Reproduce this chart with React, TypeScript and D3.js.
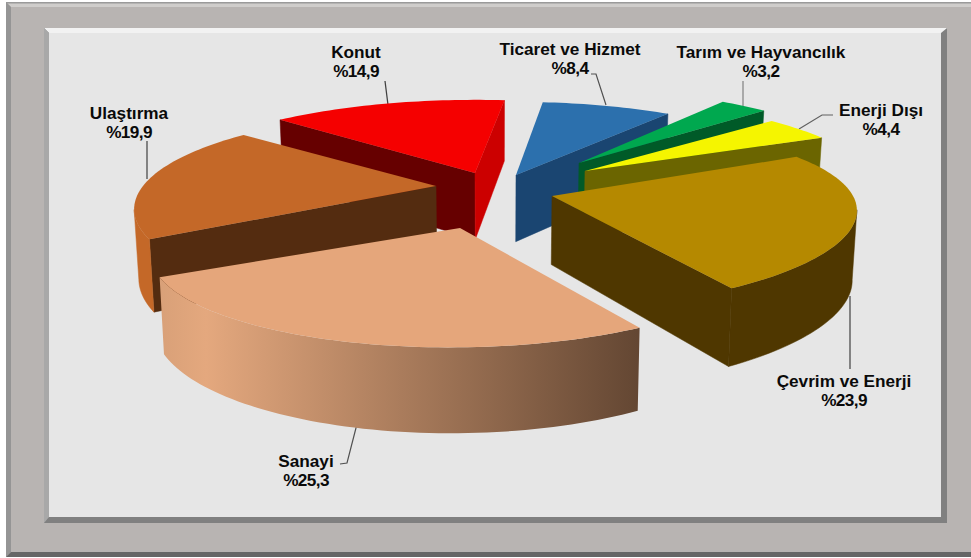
import * as d3 from "d3";

// Energy consumption shares by sector, in drawing order around the pie
const sectors = ["Konut", "Ticaret ve Hizmet", "Tarım ve Hayvancılık", "Enerji Dışı", "Çevrim ve Enerji", "Sanayi", "Ulaştırma"];
const shares = [14.9, 8.4, 3.2, 4.4, 23.9, 25.3, 19.9];
const shareLabels = ["%14,9", "%8,4", "%3,2", "%4,4", "%23,9", "%25,3", "%19,9"];

const topColors = ["#f50000", "#2c70ad", "#00a84f", "#f5f500", "#b58900", "#e5a67b", "#c46828"];
const startWallColors = ["#660000", "#1a4571", "#005a28", "#6b6500", "#4f3700", "#644733", "#542c10"];
const endWallColors = ["#cc0000", "#1a4571", "#005a28", "#6b6500", "#4f3700", "#644733", "#542c10"];
const outerWallColors = ["#cc0000", "#1a4571", "#005a28", "#6b6500", "#4f3700", "url(#sanayiWall)", "#c46828"];

// Each slice is pulled out of the pie by this many pixels
const explodeX = [-19, 22, 85, 91, 58, -34, -58];
const explodeY = [-17, -15, -27, -19, 6, 38, -4];
// Small per-slice corrections for the camera's perspective (rotation in degrees, stretch, shear)
const sliceTurn = [0.5, 0, 0, 0, 1.5, 2, -2];
const stretchX = [1.05, 1.03, 0.975, 0.985, 1, 1.015, 0.99];
const stretchY = [1, 1, 1, 1, 0.96, 1, 1];
const sliceShear = [0, 0, 0, 0.012, -0.025, -0.01, 0];
const paintOrder = [0, 1, 2, 3, 6, 4, 5];

// Label anchors and the leader lines that tie them to their slices
const labelX = [356, 570, 761, 881, 844, 306, 129];
const labelY = [58, 55, 58, 116, 387, 467, 119];
const leaders: [number, number][][] = [
  [[385, 81], [388, 105]],
  [[591, 74], [596, 74], [606, 105]],
  [[743, 81], [743, 108]],
  [[833, 115], [822, 115], [799, 129]],
  [[850, 296], [850, 369]],
  [[357, 424], [347, 463], [340, 464]],
  [[147, 141], [147, 179]],
];
const leaderColors = ["#404040", "#505050", "#808080", "#606060", "#404040", "#505050", "#404040"];

const centerX = 494;
const centerY = 190;
const radiusX = 296;
const radiusY = 90.7;
const tilt = 0.24;
const firstAngle = (312.6 * Math.PI) / 180;

type Pt = [number, number];

const pieAngles = d3
  .pie<number>()
  .sort(null)
  .startAngle(firstAngle)
  .endAngle(firstAngle + 2 * Math.PI)(shares);

const onRim = (angle: number, i: number, ox: number, oy: number): Pt => {
  const x = Math.sin(angle);
  const y = Math.cos(angle);
  const w = 1 + tilt * y;
  const px = (stretchX[i] * radiusX * x) / w;
  const py = (-stretchY[i] * radiusY * y) / w;
  return [ox + px, oy + py + sliceShear[i] * px];
};

// Wall height shrinks with distance from the viewer; verticals converge slightly
const below = (p: Pt): Pt => {
  const yGlobal = -(p[1] - centerY) / radiusY;
  const h = 68 / (1 + 0.12 * yGlobal);
  return [centerX + (p[0] - centerX) * 0.987, p[1] + h];
};

const path = d3.line<Pt>();
const closed = (pts: Pt[]) => `${path(pts)}Z`;

function Slice({ i }: { i: number }) {
  const arc = pieAngles[i];
  const ox = centerX + explodeX[i];
  const oy = centerY + explodeY[i];
  const turn = (sliceTurn[i] * Math.PI) / 180;
  const span = arc.endAngle - arc.startAngle;
  const steps = Math.max(8, Math.ceil(span * 40));
  const rim: Pt[] = d3
    .range(steps + 1)
    .map((s) => onRim(arc.startAngle + turn + (span * s) / steps, i, ox, oy));
  const apex: Pt = [ox, oy];
  const first = rim[0];
  const last = rim[rim.length - 1];
  const mid = rim[Math.floor(steps / 2)];

  // A radial wall shows when the slice's top lies on the far side of its edge
  const wallFaces = (edge: Pt) => {
    const ex = edge[0] - apex[0];
    const ey = edge[1] - apex[1];
    const cross = ex * (mid[1] - apex[1]) - ey * (mid[0] - apex[0]);
    return cross * ex < 0;
  };

  // The curved wall shows only while the rim runs right to left on screen
  const outerRuns: Pt[][] = [];
  let run: Pt[] = [];
  rim.forEach((p, k) => {
    if (k > 0 && p[0] < rim[k - 1][0]) {
      if (!run.length) run.push(rim[k - 1]);
      run.push(p);
    } else if (run.length) {
      outerRuns.push(run);
      run = [];
    }
  });
  if (run.length) outerRuns.push(run);

  const flat = (c: string) => (c.startsWith("url") ? "none" : c);

  return (
    <g>
      {wallFaces(first) && (
        <path d={closed([apex, first, below(first), below(apex)])} fill={startWallColors[i]} stroke={startWallColors[i]} strokeWidth={0.5} />
      )}
      {wallFaces(last) && (
        <path d={closed([apex, last, below(last), below(apex)])} fill={endWallColors[i]} stroke={endWallColors[i]} strokeWidth={0.5} />
      )}
      {outerRuns.map((r, k) => (
        <path key={k} d={closed([...r, ...r.map(below).reverse()])} fill={outerWallColors[i]} stroke={flat(outerWallColors[i])} strokeWidth={0.5} />
      ))}
      <path d={closed([apex, ...rim])} fill={topColors[i]} />
    </g>
  );
}

export default function App() {
  const font = '"Liberation Sans", Arial, sans-serif';
  return (
    <svg width={971} height={558} style={{ position: "fixed", left: 0, top: 0, background: "#ffffff" }}>
      <defs>
        <linearGradient id="sanayiWall" gradientUnits="userSpaceOnUse" x1={158} y1={0} x2={637} y2={0}>
          <stop offset="0" stopColor="#d8a078" />
          <stop offset="0.1" stopColor="#e4a87e" />
          <stop offset="1" stopColor="#644733" />
        </linearGradient>
      </defs>

      {/* Outer bevelled panel */}
      <rect x={6} y={2} width={965} height={555} fill="#b8b4b2" />
      <path d="M6 2H971V7H11Z" fill="#cfcdcb" />
      <path d="M6 2H971V3.5H6Z" fill="#9a9a9a" />
      <path d="M6 2L11 7V552L6 557Z" fill="#959595" />
      <path d="M6 557L11 552H971V557Z" fill="#666666" />

      {/* Inner bevelled plot area */}
      <rect x={44} y={28} width={903} height={495} fill="#808080" />
      <path d="M44 28H947L941 33H49Z" fill="#f2f2f2" />
      <path d="M44 28L49 33V517L44 523Z" fill="#a8a8a8" />
      <rect x={49} y={33} width={892} height={484} fill="#e6e6e6" />

      {leaders.map((pts, i) => (
        <path key={i} d={path(pts) as string} fill="none" stroke={leaderColors[i]} strokeWidth={1.2} />
      ))}

      {paintOrder.map((i) => (
        <Slice key={i} i={i} />
      ))}

      {sectors.map((name, i) => (
        <text key={name} x={labelX[i]} y={labelY[i]} textAnchor="middle" fontFamily={font} fontWeight="bold" fontSize={17.2} fill="#0a0a0a">
          <tspan x={labelX[i]}>{name}</tspan>
          <tspan x={labelX[i]} dy={19} letterSpacing={-0.6}>{shareLabels[i]}</tspan>
        </text>
      ))}
    </svg>
  );
}
